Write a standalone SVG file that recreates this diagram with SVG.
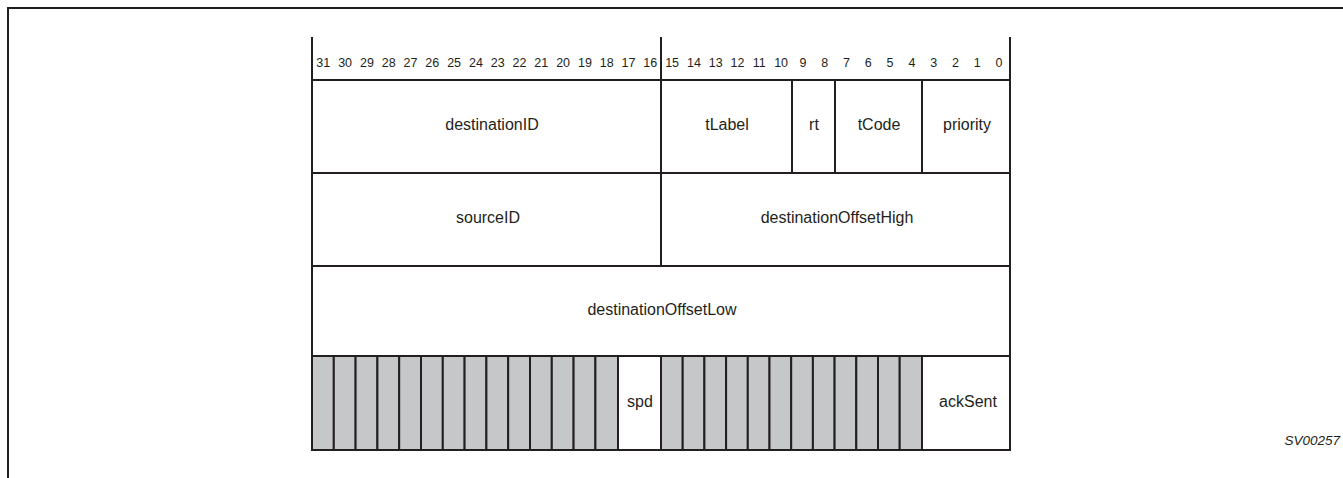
<svg xmlns="http://www.w3.org/2000/svg" width="1343" height="478" viewBox="0 0 1343 478">
<style>
.ln{stroke:#231f20;stroke-width:2;fill:none}
.cell{stroke:#231f20;stroke-width:2;fill:#ffffff}
.gray{stroke:#231f20;stroke-width:2;fill:#c6c7c8}
.t{font-family:"Liberation Sans",Arial,sans-serif;font-size:16px;fill:#231f20;text-anchor:middle}
.b{font-family:"Liberation Sans",Arial,sans-serif;font-size:12.5px;fill:#231f20;text-anchor:middle}
</style>
<rect width="1343" height="478" fill="#ffffff"/>
<g id="frame">
<path class="ln" d="M8,478 V8 H1343"/>
</g>
<g id="bit-ticks">
<path class="ln" d="M312,37 V80 M661,37 V80 M1010,37 V80"/>
</g>
<g id="bit-numbers">
<text class="b" x="323.3" y="67">31</text><text class="b" x="345.1" y="67">30</text><text class="b" x="366.9" y="67">29</text><text class="b" x="388.7" y="67">28</text><text class="b" x="410.5" y="67">27</text><text class="b" x="432.3" y="67">26</text><text class="b" x="454.1" y="67">25</text><text class="b" x="475.9" y="67">24</text><text class="b" x="497.7" y="67">23</text><text class="b" x="519.5" y="67">22</text><text class="b" x="541.3" y="67">21</text><text class="b" x="563.1" y="67">20</text><text class="b" x="584.9" y="67">19</text><text class="b" x="606.7" y="67">18</text><text class="b" x="628.5" y="67">17</text><text class="b" x="650.3" y="67">16</text><text class="b" x="672.1" y="67">15</text><text class="b" x="693.9" y="67">14</text><text class="b" x="715.7" y="67">13</text><text class="b" x="737.5" y="67">12</text><text class="b" x="759.3" y="67">11</text><text class="b" x="781.1" y="67">10</text><text class="b" x="802.9" y="67">9</text><text class="b" x="824.7" y="67">8</text><text class="b" x="846.5" y="67">7</text><text class="b" x="868.3" y="67">6</text><text class="b" x="890.1" y="67">5</text><text class="b" x="911.9" y="67">4</text><text class="b" x="933.7" y="67">3</text><text class="b" x="955.5" y="67">2</text><text class="b" x="977.3" y="67">1</text><text class="b" x="999.1" y="67">0</text>
</g>
<g id="destinationID"><rect class="cell" x="312" y="80" width="349" height="93"/><text class="t" x="492" y="130">destinationID</text></g>
<g id="tLabel"><rect class="cell" x="661" y="80" width="131" height="93"/><text class="t" x="727" y="130">tLabel</text></g>
<g id="rt"><rect class="cell" x="792" y="80" width="43" height="93"/><text class="t" x="814" y="130">rt</text></g>
<g id="tCode"><rect class="cell" x="835" y="80" width="87" height="93"/><text class="t" x="879" y="130">tCode</text></g>
<g id="priority"><rect class="cell" x="922" y="80" width="88" height="93"/><text class="t" x="967" y="130">priority</text></g>
<g id="sourceID"><rect class="cell" x="312" y="173" width="349" height="93"/><text class="t" x="488" y="223">sourceID</text></g>
<g id="destinationOffsetHigh"><rect class="cell" x="661" y="173" width="349" height="93"/><text class="t" x="837" y="223">destinationOffsetHigh</text></g>
<g id="destinationOffsetLow"><rect class="cell" x="312" y="266" width="698" height="90"/><text class="t" x="662" y="315">destinationOffsetLow</text></g>
<g id="reserved-high">
<rect class="gray" x="312" y="356" width="21.8" height="94"/><rect class="gray" x="333.8" y="356" width="21.8" height="94"/><rect class="gray" x="355.6" y="356" width="21.8" height="94"/><rect class="gray" x="377.4" y="356" width="21.8" height="94"/><rect class="gray" x="399.2" y="356" width="21.8" height="94"/><rect class="gray" x="421" y="356" width="21.8" height="94"/><rect class="gray" x="442.8" y="356" width="21.8" height="94"/><rect class="gray" x="464.6" y="356" width="21.8" height="94"/><rect class="gray" x="486.4" y="356" width="21.8" height="94"/><rect class="gray" x="508.2" y="356" width="21.8" height="94"/><rect class="gray" x="530" y="356" width="21.8" height="94"/><rect class="gray" x="551.8" y="356" width="21.8" height="94"/><rect class="gray" x="573.6" y="356" width="21.8" height="94"/><rect class="gray" x="595.4" y="356" width="22.6" height="94"/>
</g>
<g id="spd"><rect class="cell" x="618" y="356" width="43" height="94"/><text class="t" x="640" y="407">spd</text></g>
<g id="reserved-low">
<rect class="gray" x="661" y="356" width="21.7" height="94"/><rect class="gray" x="682.7" y="356" width="21.7" height="94"/><rect class="gray" x="704.4" y="356" width="21.7" height="94"/><rect class="gray" x="726.1" y="356" width="21.7" height="94"/><rect class="gray" x="747.8" y="356" width="21.7" height="94"/><rect class="gray" x="769.5" y="356" width="21.7" height="94"/><rect class="gray" x="791.2" y="356" width="21.7" height="94"/><rect class="gray" x="812.9" y="356" width="21.7" height="94"/><rect class="gray" x="834.6" y="356" width="21.7" height="94"/><rect class="gray" x="856.3" y="356" width="21.7" height="94"/><rect class="gray" x="878" y="356" width="21.7" height="94"/><rect class="gray" x="899.7" y="356" width="22.3" height="94"/>
</g>
<g id="ackSent"><rect class="cell" x="922" y="356" width="88" height="94"/><text class="t" x="968" y="407">ackSent</text></g>
<g id="connectors"></g>
<text x="1340" y="445" font-family="Liberation Sans, Arial, sans-serif" font-size="13.5" font-style="italic" fill="#231f20" text-anchor="end">SV00257</text>
</svg>
